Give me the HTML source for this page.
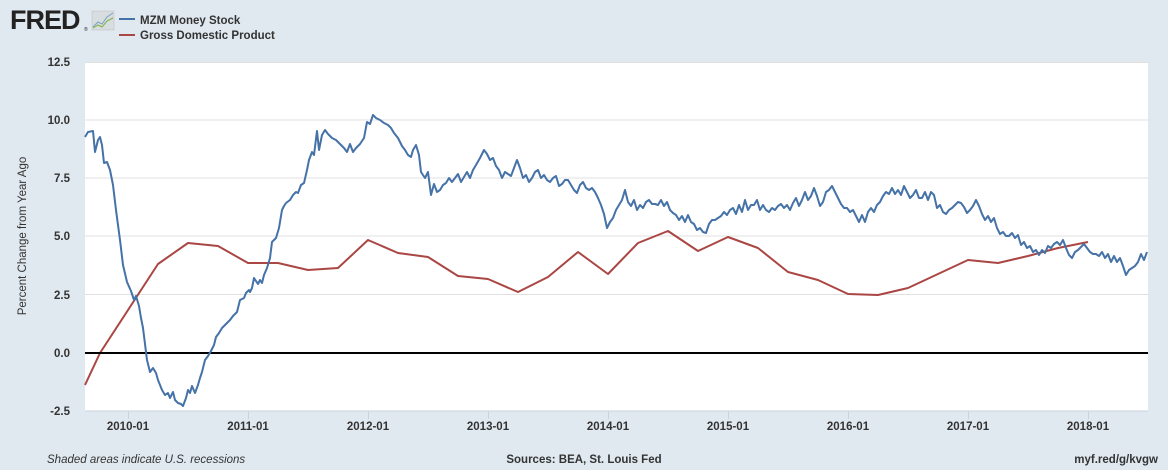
<!DOCTYPE html>
<html><head><meta charset="utf-8"><style>
body{margin:0;background:#e1e9f0;}
svg{display:block;font-family:"Liberation Sans",Arial,sans-serif;}
</style></head><body>
<svg width="1168" height="470" viewBox="0 0 1168 470" xmlns="http://www.w3.org/2000/svg">
<rect width="1168" height="470" fill="#e1e9f0"/>
<text x="10" y="29" font-size="27" font-weight="bold" fill="#222" letter-spacing="-1">FRED</text>
<text x="84" y="31" font-size="5" fill="#222">®</text>
<rect x="92" y="11" width="22" height="19" fill="#d8dde0" stroke="#bbb" stroke-width="0.5"/>
<polyline points="93,27 98,22 102,24 107,17 113,13" fill="none" stroke="#7aa0c0" stroke-width="1"/>
<polyline points="93,28 98,25 102,27 107,21 113,18" fill="none" stroke="#7cb342" stroke-width="1"/>
<line x1="119" y1="19" x2="135" y2="19" stroke="#4572a7" stroke-width="2"/>
<line x1="119" y1="35" x2="135" y2="35" stroke="#aa4643" stroke-width="2"/>
<text x="140" y="24" font-size="11.5" font-weight="bold" fill="#333">MZM Money Stock</text>
<text x="140" y="39" font-size="11.5" font-weight="bold" fill="#333">Gross Domestic Product</text>
<rect x="85" y="62" width="1063" height="349" fill="#fff"/>
<g stroke="#e0e0e0" stroke-width="1">
<line x1="85" y1="62.5" x2="1148" y2="62.5"/><line x1="85" y1="120" x2="1148" y2="120"/><line x1="85" y1="178" x2="1148" y2="178"/><line x1="85" y1="236" x2="1148" y2="236"/><line x1="85" y1="294.5" x2="1148" y2="294.5"/>
</g>
<line x1="85" y1="411" x2="1148" y2="411" stroke="#c8d3e0" stroke-width="1"/>
<g stroke="#c8d3e0" stroke-width="1">
<line x1="128.5" y1="411" x2="128.5" y2="419"/><line x1="248.5" y1="411" x2="248.5" y2="419"/><line x1="368.5" y1="411" x2="368.5" y2="419"/><line x1="488.5" y1="411" x2="488.5" y2="419"/><line x1="608.5" y1="411" x2="608.5" y2="419"/><line x1="728.5" y1="411" x2="728.5" y2="419"/><line x1="848.5" y1="411" x2="848.5" y2="419"/><line x1="968.5" y1="411" x2="968.5" y2="419"/><line x1="1088.5" y1="411" x2="1088.5" y2="419"/>
</g>
<g font-size="11.5" font-weight="bold" fill="#333" text-anchor="end">
<text x="70" y="66">12.5</text><text x="70" y="124">10.0</text><text x="70" y="182">7.5</text><text x="70" y="240">5.0</text><text x="70" y="299">2.5</text><text x="70" y="357">0.0</text><text x="70" y="415">-2.5</text>
</g>
<g font-size="11.5" font-weight="bold" fill="#333" text-anchor="middle">
<text x="128" y="430">2010-01</text><text x="248" y="430">2011-01</text><text x="368" y="430">2012-01</text><text x="488" y="430">2013-01</text><text x="608" y="430">2014-01</text><text x="728" y="430">2015-01</text><text x="848" y="430">2016-01</text><text x="968" y="430">2017-01</text><text x="1088" y="430">2018-01</text>
</g>
<text transform="translate(26,236) rotate(-90)" font-size="11.5" fill="#333" text-anchor="middle">Percent Change from Year Ago</text>
<polyline fill="none" stroke="#aa4643" stroke-width="2" stroke-linejoin="round" points="85,385 100,353 158,264 188,243 218,246 248,263 278,263 308,270 338,268 368,240 398,253 428,257 458,276 488,279 518,292 548,277 578,252 608,274 638,243 668,231 698,251 728,237 758,248 788,272 818,280 848,294 878,295 908,288 938,274 968,260 998,263 1028,256 1058,248 1088,242"/>
<line x1="85" y1="353" x2="1148" y2="353" stroke="#000" stroke-width="2"/>
<polyline fill="none" stroke="#4572a7" stroke-width="2" stroke-linejoin="round" points="85,137 88,132 93,131 95,152 98,140 100,137 102,145 104,163 107,162 110,170 113,185 116,210 120,240 123,265 127,282 131,291 134,300 136,296 139,306 141,318 143,328 147,360 150,372 153,368 156,373 158,380 162,390 165,395 168,393 170,398 173,392 175,400 178,403 181,404 183,406 186,398 188,390 190,393 192,386 195,393 198,385 200,378 202,372 205,360 208,356 211,351 214,345 216,337 219,333 222,328 226,324 230,320 233,316 237,312 240,300 244,298 246,293 249,290 250,292 252,288 254,278 258,284 260,280 262,283 264,275 267,268 270,258 272,242 276,238 279,228 282,210 284,206 286,203 290,200 293,195 296,192 298,193 301,185 304,183 307,170 309,160 312,152 314,155 317,131 319,150 322,135 325,130 328,134 332,138 336,140 340,144 344,148 347,152 350,144 353,152 356,148 360,144 364,138 367,122 370,124 373,115 376,118 380,120 384,123 388,125 391,128 394,133 398,138 402,146 405,150 408,155 411,157 413,150 416,145 419,155 421,172 425,178 428,172 431,195 434,184 437,192 440,190 443,185 446,183 449,178 452,182 455,178 458,174 461,182 464,177 467,172 470,178 473,170 476,165 480,158 484,150 487,154 490,160 493,158 496,166 499,170 502,178 505,172 508,174 511,176 514,168 517,160 520,168 523,178 526,175 529,182 532,178 535,172 538,170 541,178 544,175 547,180 550,182 553,178 556,176 559,186 562,184 565,180 568,180 571,185 574,190 577,193 580,185 583,182 586,188 589,190 592,188 595,192 598,198 601,205 604,214 607,228 610,222 613,218 616,210 619,205 622,200 625,190 628,202 631,206 634,200 637,210 640,205 643,208 646,202 649,200 652,204 655,204 658,205 661,200 664,206 667,202 670,210 673,213 676,215 679,220 682,216 685,222 688,215 691,222 694,224 697,230 700,228 703,232 706,233 709,224 712,220 715,220 718,218 721,216 724,212 727,215 730,210 733,208 736,214 739,205 742,212 745,200 748,210 751,205 754,205 757,200 760,210 763,205 766,210 769,212 772,208 775,210 778,206 781,204 784,208 787,205 790,210 793,203 796,198 799,206 802,200 805,192 808,200 811,196 814,188 817,196 820,206 823,202 826,192 829,190 832,186 835,192 838,198 841,204 844,208 847,208 850,212 853,210 856,216 859,222 862,215 865,222 868,212 871,208 874,212 877,205 880,202 883,196 886,192 889,194 892,188 895,194 898,190 901,195 904,186 907,192 910,198 913,195 916,190 919,198 922,198 925,192 928,200 931,192 934,195 937,208 940,205 943,212 946,214 949,210 952,208 955,205 958,202 961,203 964,207 967,213 970,210 973,206 976,200 979,206 982,214 985,220 988,216 991,222 994,218 997,228 1000,234 1003,232 1006,236 1009,236 1012,233 1015,238 1018,235 1021,245 1024,242 1027,248 1030,246 1033,252 1036,250 1039,255 1042,250 1045,253 1048,246 1051,248 1054,244 1057,242 1060,245 1063,240 1066,248 1069,255 1072,258 1075,252 1078,250 1081,247 1084,244 1087,248 1090,252 1093,254 1096,254 1099,256 1102,252 1105,258 1108,254 1111,262 1114,256 1117,262 1120,258 1123,266 1126,275 1129,270 1132,268 1135,266 1138,262 1141,254 1144,260 1147,252"/>
<text x="47" y="463" font-size="11.5" font-style="italic" fill="#333">Shaded areas indicate U.S. recessions</text>
<text x="584" y="463" font-size="11.5" font-weight="bold" fill="#333" text-anchor="middle">Sources: BEA, St. Louis Fed</text>
<text x="1158" y="463" font-size="11.5" font-weight="bold" fill="#333" text-anchor="end">myf.red/g/kvgw</text>
</svg>
</body></html>
